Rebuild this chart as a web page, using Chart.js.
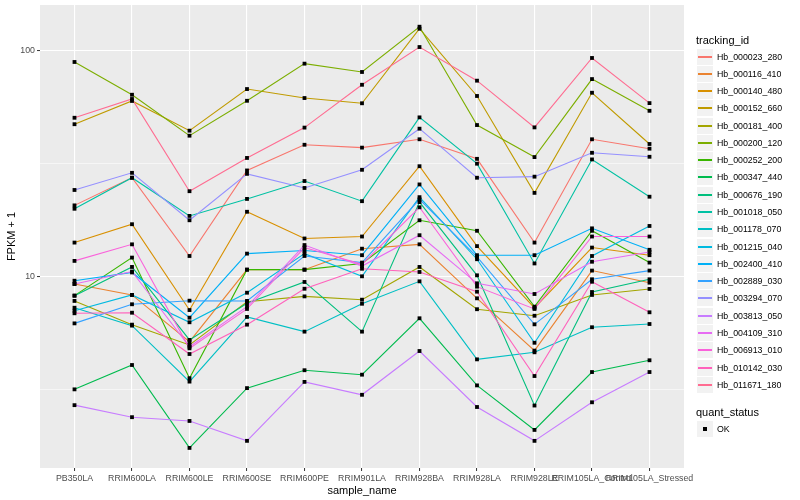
<!DOCTYPE html>
<html>
<head>
<meta charset="utf-8">
<script src="https://cdn.jsdelivr.net/npm/chart.js@4.4.1/dist/chart.umd.min.js"></script>
<style>
  html, body { margin: 0; padding: 0; background: #fff; }
  #wrap { position: relative; width: 800px; height: 500px; font-family: "Liberation Sans", Arial, sans-serif; }
  #chart { position: absolute; left: 0; top: 0; }
  .ttl { position: absolute; left: 696px; font-size: 11px; line-height: 13px; color: #000; white-space: nowrap; }
  .key { position: absolute; left: 697px; width: 16px; height: 16px; background: #F2F2F2; }
  .key i { position: absolute; display: block; left: 1px; width: 14px; top: 7px; height: 2px; }
  .lab { position: absolute; left: 717px; font-size: 8.8px; line-height: 10px; color: #000; white-space: nowrap; }
</style>
</head>
<body>
<div id="wrap">
  <canvas id="chart" width="800" height="500"></canvas>
  <div id="legend"></div>
</div>
<script>
const sampleNames = ['PB350LA', 'RRIM600LA', 'RRIM600LE', 'RRIM600SE', 'RRIM600PE', 'RRIM901LA',
  'RRIM928BA', 'RRIM928LA', 'RRIM928LE', 'RRIM105LA_Control', 'RRIM105LA_Stressed'];

const trackingIds = ['Hb_000023_280', 'Hb_000116_410', 'Hb_000140_480', 'Hb_000152_660', 'Hb_000181_400',
  'Hb_000200_120', 'Hb_000252_200', 'Hb_000347_440', 'Hb_000676_190', 'Hb_001018_050',
  'Hb_001178_070', 'Hb_001215_040', 'Hb_002400_410', 'Hb_002889_030', 'Hb_003294_070',
  'Hb_003813_050', 'Hb_004109_310', 'Hb_006913_010', 'Hb_010142_030', 'Hb_011671_180'];

const lineColors = ['#F8766D', '#EA8331', '#D89000', '#C09B00', '#A3A500', '#7CAE00', '#39B600', '#00BB4E',
  '#00BF7D', '#00C1A3', '#00BFC4', '#00BAE0', '#00B0F6', '#35A2FF', '#9590FF', '#C77CFF',
  '#E76BF3', '#FA62DB', '#FF62BC', '#FF6C91'];

// FPKM + 1, one value per sample
const hb_000023_280 = [20.6, 27.3, 12.3, 29.4, 38.2, 37.1, 40.4, 33.1, 14.1, 40.4, 36.7];
const hb_000116_410 = [9.25, 8.27, 5.14, 10.7, 10.7, 13.25, 13.85, 7.99, 4.69, 10.6, 9.37];
const hb_000140_480 = [14.1, 17.0, 7.09, 19.3, 14.7, 15.0, 30.7, 13.6, 7.25, 13.4, 12.4];
const hb_000152_660 = [47.1, 59.7, 44.1, 67.4, 61.5, 58.3, 124.6, 62.8, 23.4, 64.9, 38.5];
const hb_000181_400 = [7.78, 6.11, 4.97, 7.72, 8.15, 7.88, 11.0, 7.15, 6.69, 8.27, 8.79];
const hb_000200_120 = [88.8, 63.6, 41.9, 59.8, 87.3, 80.2, 127.2, 46.7, 33.7, 74.6, 54.0];
const hb_000252_200 = [8.21, 12.1, 3.54, 10.7, 10.7, 11.4, 17.7, 15.9, 7.34, 15.9, 11.5];
const hb_000347_440 = [3.16, 4.05, 1.74, 3.20, 3.84, 3.67, 6.52, 3.29, 2.09, 3.77, 4.25];
const hb_000676_190 = [8.21, 11.0, 5.23, 7.60, 9.44, 5.69, 21.3, 10.1, 2.68, 8.52, 9.70];
const hb_001018_050 = [19.9, 27.3, 18.5, 22.0, 26.4, 21.5, 50.5, 31.5, 11.4, 32.9, 22.5];
const hb_001178_070 = [7.26, 6.05, 3.42, 6.61, 5.69, 7.56, 9.50, 4.29, 4.61, 5.95, 6.15];
const hb_001215_040 = [7.04, 8.27, 6.26, 8.46, 12.6, 10.0, 22.4, 11.9, 5.08, 12.3, 16.7];
const hb_002400_410 = [9.56, 10.4, 6.56, 12.6, 13.0, 12.4, 25.5, 12.4, 12.4, 16.3, 13.1];
const hb_002889_030 = [6.19, 7.52, 7.80, 7.78, 12.3, 11.5, 21.9, 12.2, 6.13, 9.70, 10.6];
const hb_003294_070 = [24.1, 28.7, 17.7, 28.4, 24.6, 29.6, 45.0, 27.3, 27.6, 35.2, 33.8];
const hb_003813_050 = [2.69, 2.38, 2.29, 1.87, 3.41, 2.99, 4.67, 2.64, 1.87, 2.77, 3.77];
const hb_004109_310 = [9.25, 10.5, 4.88, 7.34, 13.75, 11.1, 15.2, 9.31, 8.35, 11.6, 12.8];
const hb_006913_010 = [11.7, 13.85, 4.80, 7.17, 13.4, 11.3, 20.2, 9.0, 7.17, 15.0, 15.0];
const hb_010142_030 = [6.86, 6.90, 4.53, 6.11, 8.81, 10.8, 10.45, 8.55, 3.62, 9.46, 6.93];
const hb_011671_180 = [50.3, 60.9, 23.8, 33.4, 45.5, 70.4, 103.4, 73.4, 45.6, 92.5, 58.4];

const seriesValues = [hb_000023_280, hb_000116_410, hb_000140_480, hb_000152_660, hb_000181_400,
  hb_000200_120, hb_000252_200, hb_000347_440, hb_000676_190, hb_001018_050,
  hb_001178_070, hb_001215_040, hb_002400_410, hb_002889_030, hb_003294_070,
  hb_003813_050, hb_004109_310, hb_006913_010, hb_010142_030, hb_011671_180];

const yMajor = [10, 100];
const yMinor = [3.1623, 31.623];
const quantStatus = ['OK'];

const FONT = '"Liberation Sans", Arial, sans-serif';
const isMajor = v => yMajor.includes(v);

const datasets = trackingIds.map((id, i) => ({
  label: id,
  data: seriesValues[i].map((v, j) => ({ x: j, y: v })),
  borderColor: lineColors[i],
  backgroundColor: lineColors[i],
  borderWidth: 1.1,
  pointRadius: 0,
  tension: 0,
  fill: false,
  order: trackingIds.length - i
}));

// points layer on top of all lines
datasets.push({
  label: quantStatus[0],
  data: seriesValues.flatMap(vals => vals.map((v, j) => ({ x: j, y: v }))),
  showLine: false,
  pointStyle: 'rect',
  pointRadius: 2.7,
  pointBorderWidth: 0,
  backgroundColor: '#000',
  borderColor: '#000',
  order: -1
});

const panelBg = {
  id: 'panelBg',
  beforeDraw(chart) {
    const { ctx, chartArea: a } = chart;
    ctx.save();
    ctx.fillStyle = '#EBEBEB';
    ctx.fillRect(a.left, a.top, a.right - a.left, a.bottom - a.top);
    ctx.restore();
  }
};

new Chart(document.getElementById('chart').getContext('2d'), {
  type: 'line',
  data: { datasets },
  plugins: [panelBg],
  options: {
    responsive: false,
    animation: false,
    layout: { padding: { top: 5, right: 116, left: 0, bottom: 0 } },
    plugins: { legend: { display: false }, tooltip: { enabled: false } },
    scales: {
      x: {
        type: 'linear',
        min: -0.6,
        max: sampleNames.length - 1 + 0.6,
        afterBuildTicks: s => { s.ticks = sampleNames.map((n, i) => ({ value: i })); },
        afterFit: s => { s.height = 32; s.paddingLeft = 0; s.paddingRight = 0; },
        ticks: {
          autoSkip: false, maxRotation: 0, minRotation: 0, padding: 2,
          color: '#4D4D4D', font: { size: 8.8, family: FONT },
          callback: v => sampleNames[v]
        },
        grid: { color: '#FFFFFF', lineWidth: 1.1, tickLength: 3, tickColor: '#333333', tickWidth: 1 },
        border: { display: false },
        title: { display: true, text: 'sample_name', color: '#000', font: { size: 11, family: FONT }, padding: { top: 0, bottom: 2 } }
      },
      y: {
        type: 'logarithmic',
        min: 1.418,
        max: 158.7,
        afterBuildTicks: s => {
          s.ticks = yMinor.concat(yMajor).sort((a, b) => a - b).map(v => ({ value: v }));
        },
        afterFit: s => { s.width = 40; s.paddingTop = 0; s.paddingBottom = 0; },
        ticks: {
          padding: 2, color: '#4D4D4D', font: { size: 8.8, family: FONT },
          callback: v => (isMajor(v) ? String(v) : '')
        },
        grid: {
          color: '#FFFFFF',
          lineWidth: c => (c.tick && isMajor(c.tick.value) ? 1.1 : 0.55),
          tickLength: 3,
          tickColor: c => (c.tick && isMajor(c.tick.value) ? '#333333' : 'rgba(0,0,0,0)'),
          tickWidth: 1
        },
        border: { display: false },
        title: { display: true, text: 'FPKM + 1', color: '#000', font: { size: 11, family: FONT }, padding: { top: 5.4, bottom: 0 } }
      }
    }
  }
});

// legend, ggplot style
const legend = document.getElementById('legend');
function addDiv(cls, top, text) {
  const d = document.createElement('div');
  d.className = cls;
  d.style.top = Math.round(top) + 'px';
  if (text) d.textContent = text;
  legend.appendChild(d);
  return d;
}
const keyH = 17.28;
const keyTop = 48.5;
addDiv('ttl', 34, 'tracking_id');
trackingIds.forEach((id, i) => {
  const k = addDiv('key', keyTop + i * keyH);
  const ln = document.createElement('i');
  ln.style.background = lineColors[i];
  k.appendChild(ln);
  addDiv('lab', keyTop + i * keyH + 8 - 5, id);
});
const qTop = 406;
addDiv('ttl', qTop, 'quant_status');
quantStatus.forEach((s, i) => {
  const k = addDiv('key', qTop + 15 + i * keyH);
  const pt = document.createElement('i');
  pt.style.cssText = 'left:6px;width:4px;top:6px;height:4px;background:#000;';
  k.appendChild(pt);
  addDiv('lab', qTop + 15 + i * keyH + 8 - 5, s);
});
</script>
</body>
</html>
